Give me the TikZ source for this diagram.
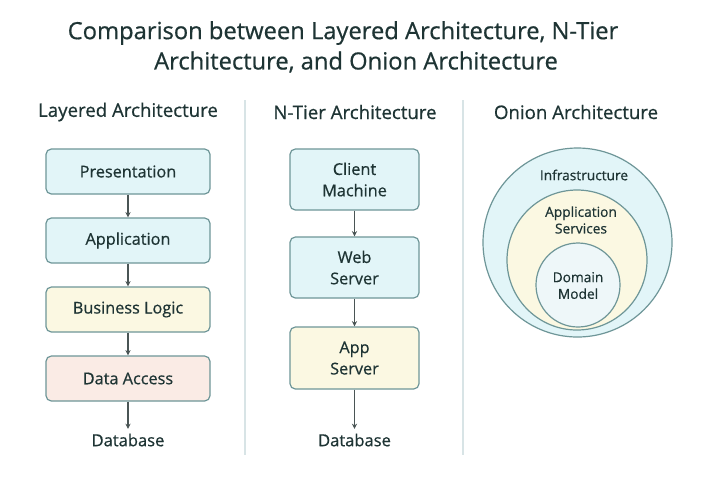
\documentclass[tikz,border=0pt]{standalone}
\usepackage{fontspec}
\setmainfont{Open Sans}
\newfontfamily\medfont{Open Sans}[FakeBold=0.6]
\usetikzlibrary{arrows.meta}
\definecolor{txt}{HTML}{1E3434}
\definecolor{edge}{HTML}{6E9698}
\definecolor{cyanf}{HTML}{E2F5F8}
\definecolor{yelf}{HTML}{FBF8E2}
\definecolor{pinkf}{HTML}{FAEBE5}
\definecolor{innerf}{HTML}{EEF7F9}
\definecolor{sep}{HTML}{D8E4E6}
\definecolor{arr}{HTML}{4A5555}
\tikzset{
  box/.style={draw=edge, line width=0.9pt, rounded corners=4pt, text=txt, font=\medfont\fontsize{12.2}{15}\selectfont, align=center, inner sep=0pt},
  head/.style={text=txt, font=\medfont\fontsize{14}{16}\selectfont},
  lbl/.style={text=txt, font=\medfont\fontsize{12.4}{15}\selectfont},
  olbl/.style={text=txt, font=\medfont\fontsize{10.3}{12.5}\selectfont, align=center},
  conn/.style={draw=arr, line width=0.8pt, -{Stealth[length=4pt,width=4pt]}},
  ring/.style={draw=edge, line width=0.9pt},
  sepline/.style={draw=sep, line width=1pt}
}
\begin{document}
\begin{tikzpicture}[x=0.75pt,y=-0.75pt]
\useasboundingbox (0,0) rectangle (720,480);
\fill[white] (0,0) rectangle (720,480);
% title
\node[text=txt, font=\medfont\fontsize{17.8}{22}\selectfont] (t1) at (343,33) {Comparison between Layered Architecture, N-Tier};
\node[text=txt, font=\medfont\fontsize{17.8}{22}\selectfont] (t2) at (356,62) {Architecture, and Onion Architecture};
% headers
\node[head] (h1) at (128,112) {Layered Architecture};
\node[head] (h2) at (355,112) {N-Tier Architecture};
\node[head] (h3) at (576,112) {Onion Architecture};
% separators
\coordinate (s1a) at (245,100); \coordinate (s1b) at (245,455);
\coordinate (s2a) at (463,100); \coordinate (s2b) at (463,455);
\draw[sepline] (s1a) -- (s1b);
\draw[sepline] (s2a) -- (s2b);
% layered
\node[box, fill=cyanf, minimum width=164*0.75pt, minimum height=45*0.75pt] (pres) at (128,171.5) {Presentation};
\node[box, fill=cyanf, minimum width=164*0.75pt, minimum height=45*0.75pt] (app) at (128,240.5) {Application};
\node[box, fill=yelf, minimum width=164*0.75pt, minimum height=45*0.75pt] (bl) at (128,309.5) {Business Logic};
\node[box, fill=pinkf, minimum width=164*0.75pt, minimum height=45*0.75pt] (da) at (128,378.5) {Data Access};
\node[lbl] (db1) at (128,440) {Database};
\draw[conn] (pres) -- (app);
\draw[conn] (app) -- (bl);
\draw[conn] (bl) -- (da);
\draw[conn] (da) -- (db1);
% n-tier
\node[box, fill=cyanf, minimum width=129*0.75pt, minimum height=61*0.75pt] (cm) at (354.5,179.5) {Client\\[1pt]Machine};
\node[box, fill=cyanf, minimum width=129*0.75pt, minimum height=61*0.75pt] (ws) at (354.5,267.5) {Web\\[1pt]Server};
\node[box, fill=yelf, minimum width=129*0.75pt, minimum height=62*0.75pt] (as) at (354.5,358) {App\\[1pt]Server};
\node[lbl] (db2) at (354.5,440) {Database};
\draw[conn] (cm) -- (ws);
\draw[conn] (ws) -- (as);
\draw[conn] (as) -- (db2);
% onion
\node[ring, fill=cyanf, circle, minimum size=189*0.75pt, inner sep=0pt] (outer) at (577.5,242.5) {};
\node[ring, fill=yelf, circle, minimum size=140*0.75pt, inner sep=0pt] (mid) at (577,260) {};
\node[ring, fill=innerf, circle, minimum size=84*0.75pt, inner sep=0pt] (inner) at (578,285) {};
\node[olbl] (l1) at (584,175) {Infrastructure};
\node[olbl] (l2) at (581,220) {Application\\Services};
\node[olbl] (l3) at (578,285.5) {Domain\\Model};
\end{tikzpicture}
\end{document}
